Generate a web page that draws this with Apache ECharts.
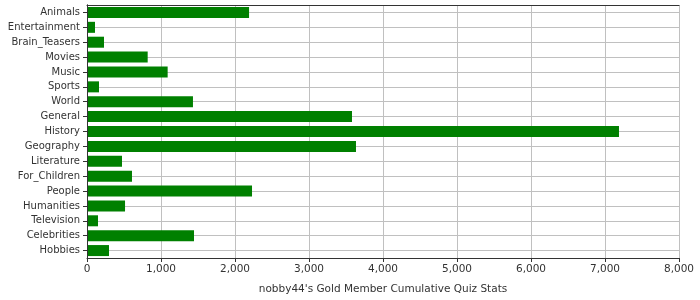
<!DOCTYPE html>
<html><head><meta charset="utf-8">
<script src="https://cdn.jsdelivr.net/npm/echarts@6/dist/echarts.min.js"></script>
<style>html,body{margin:0;padding:0;background:#fff}#c{width:700px;height:300px}</style>
</head><body><div id="c"></div>
<script>
const categories = ["Animals","Entertainment","Brain_Teasers","Movies","Music","Sports","World","General","History","Geography","Literature","For_Children","People","Humanities","Television","Celebrities","Hobbies"];
const values = [2190,108,230,820,1090,162,1432,3581,7189,3635,473,608,2230,514,149,1446,297];
const xTicks = {min:0, max:8000, interval:1000};
const axisTitle = "nobby44's Gold Member Cumulative Quiz Stats";

const chart = echarts.init(document.getElementById('c'), null, {renderer:'canvas'});
const font = 'DejaVu Sans';
const borderAxis = {show:true, lineStyle:{color:'#333', width:1}};
chart.setOption({
  animation:false,
  backgroundColor:'#fff',
  grid:{left:87, right:21, top:5, bottom:41, containLabel:false},
  xAxis:[{
    type:'value', min:xTicks.min, max:xTicks.max, interval:xTicks.interval,
    name:axisTitle, nameLocation:'middle', nameGap:26,
    nameTextStyle:{fontFamily:font, fontSize:10.5, color:'#333'},
    axisLine:borderAxis,
    axisTick:{show:true, length:4, lineStyle:{color:'#333'}},
    axisLabel:{fontFamily:font, fontSize:10.5, color:'#333', margin:6,
      formatter:v=>v.toLocaleString('en-US')},
    splitLine:{show:true, lineStyle:{color:'#c0c0c0', width:1}},
    z:1
  },{
    type:'value', position:'top', min:xTicks.min, max:xTicks.max,
    axisLine:borderAxis, axisTick:{show:false}, axisLabel:{show:false}, splitLine:{show:false}, z:5
  }],
  yAxis:[{
    type:'category', data:categories, inverse:true,
    axisLine:borderAxis,
    axisTick:{show:true, length:4, alignWithLabel:true, lineStyle:{color:'#333'}},
    axisLabel:{fontFamily:font, fontSize:10, color:'#333', margin:7},
    splitLine:{show:true, alignWithLabel:true, lineStyle:{color:'#c0c0c0', width:1}}
  },{
    type:'value', position:'right', min:0, max:1,
    axisLine:borderAxis, axisTick:{show:false}, axisLabel:{show:false}, splitLine:{show:false}, z:5
  }],
  series:[{type:'bar', data:values, barCategoryGap:'26%', itemStyle:{color:'#008000'}}]
});
</script></body></html>
